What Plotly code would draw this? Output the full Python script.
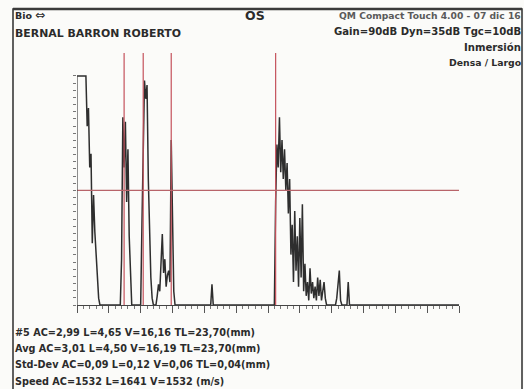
import plotly.graph_objects as go

# ---------------- data ----------------
STEP_MM = 0.2          # sample spacing along depth axis (mm)
N_SAMPLES = 301        # 0 .. 60 mm

# echo bursts: (start sample index, amplitudes in %)
main_bang_start = 0
main_bang = [100, 100, 100, 100, 100, 100, 100, 100, 78, 86, 60, 66, 27, 48, 32, 22, 8, 3, 0]
cornea_start = 35
cornea = [20, 82, 60, 80, 45, 68, 30, 12, 0]
lens_front_start = 50
lens_front = [0, 35, 75, 98, 90, 96, 55, 30, 12, 3, 0]
lens_back_start = 62
lens_back = [0, 4, 9, 6, 22, 31, 14, 20, 8, 13, 15, 10, 72, 40, 6, 0]
vitreous_start = 105
vitreous = [0, 9, 0]
retina_start = 155
retina = [0, 45, 70, 60, 82, 58, 72, 55, 68, 50, 62, 40, 55, 22, 35, 10, 41, 15, 30, 8,
          38, 12, 44, 6, 18, 4, 10, 2, 16, 5, 10, 3, 8, 2, 12, 4, 11, 2, 6, 10, 3, 0]
orbit_start = 203
orbit = [0, 3, 8, 15, 2, 0, 0, 0, 0, 0, 10, 0]

gates_mm = [7.4, 10.4, 14.8, 31.2]   # AC, L, V gate markers
threshold_pct = 50

header_left = ["Bio \u21d4", "BERNAL BARRON ROBERTO"]
header_eye = "OS"
header_right = ["QM Compact Touch 4.00 - 07 dic 16", "Gain=90dB Dyn=35dB Tgc=10dB",
                "Inmersión", "Densa / Largo"]
footer_lines = ["#5 AC=2,99 L=4,65 V=16,16 TL=23,70(mm)",
                "Avg AC=3,01 L=4,50 V=16,19 TL=23,70(mm)",
                "Std-Dev AC=0,09 L=0,12 V=0,06 TL=0,04(mm)",
                "Speed AC=1532 L=1641 V=1532 (m/s)"]

# ---------------- assemble trace ----------------
amp = [0.0] * N_SAMPLES
for start, seg in [(main_bang_start, main_bang), (cornea_start, cornea),
                   (lens_front_start, lens_front), (lens_back_start, lens_back),
                   (vitreous_start, vitreous), (retina_start, retina),
                   (orbit_start, orbit)]:
    for k, v in enumerate(seg):
        amp[start + k] = v
depth = [round(i * STEP_MM, 3) for i in range(N_SAMPLES)]

# ---------------- layout geometry (pixels) ----------------
W, H = 524, 389
PL, PR, PT, PB = 77, 459, 53, 305
pw, ph = PR - PL, PB - PT
XMAX, YMAX = 60, 110

def px(x):
    return (x - PL) / pw

def py(y):
    return (PB - y) / ph

RED = "#c4525c"
INK = "#2b2b2b"
FONT = "DejaVu Sans"

fig = go.Figure()
fig.add_trace(go.Scatter(x=depth, y=amp, mode="lines",
                         line=dict(color="#2e2e2e", width=1.5),
                         hoverinfo="skip", showlegend=False))

# gate markers
for g in gates_mm:
    fig.add_shape(type="line", xref="x", yref="y", x0=g, x1=g, y0=-1.5, y1=YMAX,
                  line=dict(color=RED, width=1.2))
# threshold
fig.add_shape(type="line", xref="x", yref="y", x0=0, x1=XMAX,
              y0=threshold_pct, y1=threshold_pct,
              line=dict(color="#b8646a", width=1.2))
# y axis line (0..100 only)
fig.add_shape(type="line", xref="x", yref="y", x0=0, x1=0, y0=0, y1=100,
              line=dict(color="#444444", width=1.2))
# frame of the printout
fig.add_shape(type="rect", xref="paper", yref="paper",
              x0=px(13), x1=px(522), y0=py(395), y1=py(9),
              line=dict(color="#3a3a3a", width=1.6), fillcolor="rgba(0,0,0,0)",
              layer="above")
fig.add_shape(type="line", xref="paper", yref="paper",
              x0=px(13), x1=px(522), y0=py(9), y1=py(9),
              line=dict(color="#3a3a3a", width=2.4), layer="above")

def txt(t, x, y, anchor="left", size=10, color=INK):
    fig.add_annotation(text=t, x=px(x), y=py(y), xref="paper", yref="paper",
                       xanchor=anchor, yanchor="middle", showarrow=False,
                       font=dict(family=FONT, size=size, color=color))

txt("<b>Bio</b> <span style='font-size:12px'>\u21d4</span>", 13, 15, size=9.5)
txt("<b>%s</b>" % header_left[1], 13, 33, size=10.9)
txt("<b>%s</b>" % header_eye, 255, 15, anchor="center", size=12.5)
for t, y, c, s in zip(header_right, [15, 31, 47, 62],
                      ["#5a5a5a", INK, INK, INK], [9.2, 10.1, 10.1, 9.3]):
    txt("<b>%s</b>" % t, 523, y, anchor="right", size=s, color=c)
for t, y in zip(footer_lines, [332, 348, 364, 381]):
    txt("<b>%s</b>" % t, 13, y, size=9.7)

fig.update_layout(
    width=W, height=H,
    margin=dict(l=PL, r=W - PR, t=PT, b=H - PB, pad=0),
    paper_bgcolor="#fbfbf9", plot_bgcolor="#fbfbf9",
    showlegend=False,
    xaxis=dict(range=[0, XMAX], showgrid=False, zeroline=False,
               showline=True, linecolor="#444444", linewidth=1.2,
               ticks="outside", tickmode="linear", tick0=0, dtick=5,
               ticklen=7, tickcolor="#555555", tickwidth=1,
               showticklabels=False,
               minor=dict(ticks="outside", dtick=1, ticklen=3,
                          tickcolor="#777777", tickwidth=1)),
    yaxis=dict(range=[0, YMAX], showgrid=False, zeroline=False,
               showline=False, ticks="outside",
               tickmode="array", tickvals=[i * 3.125 for i in range(33)],
               ticklen=3, tickcolor="#777777", tickwidth=1,
               showticklabels=False),
)

fig.write_html("out.html", config={"displayModeBar": False},
               post_script="document.body.style.margin='0';document.body.style.overflow='hidden';")
